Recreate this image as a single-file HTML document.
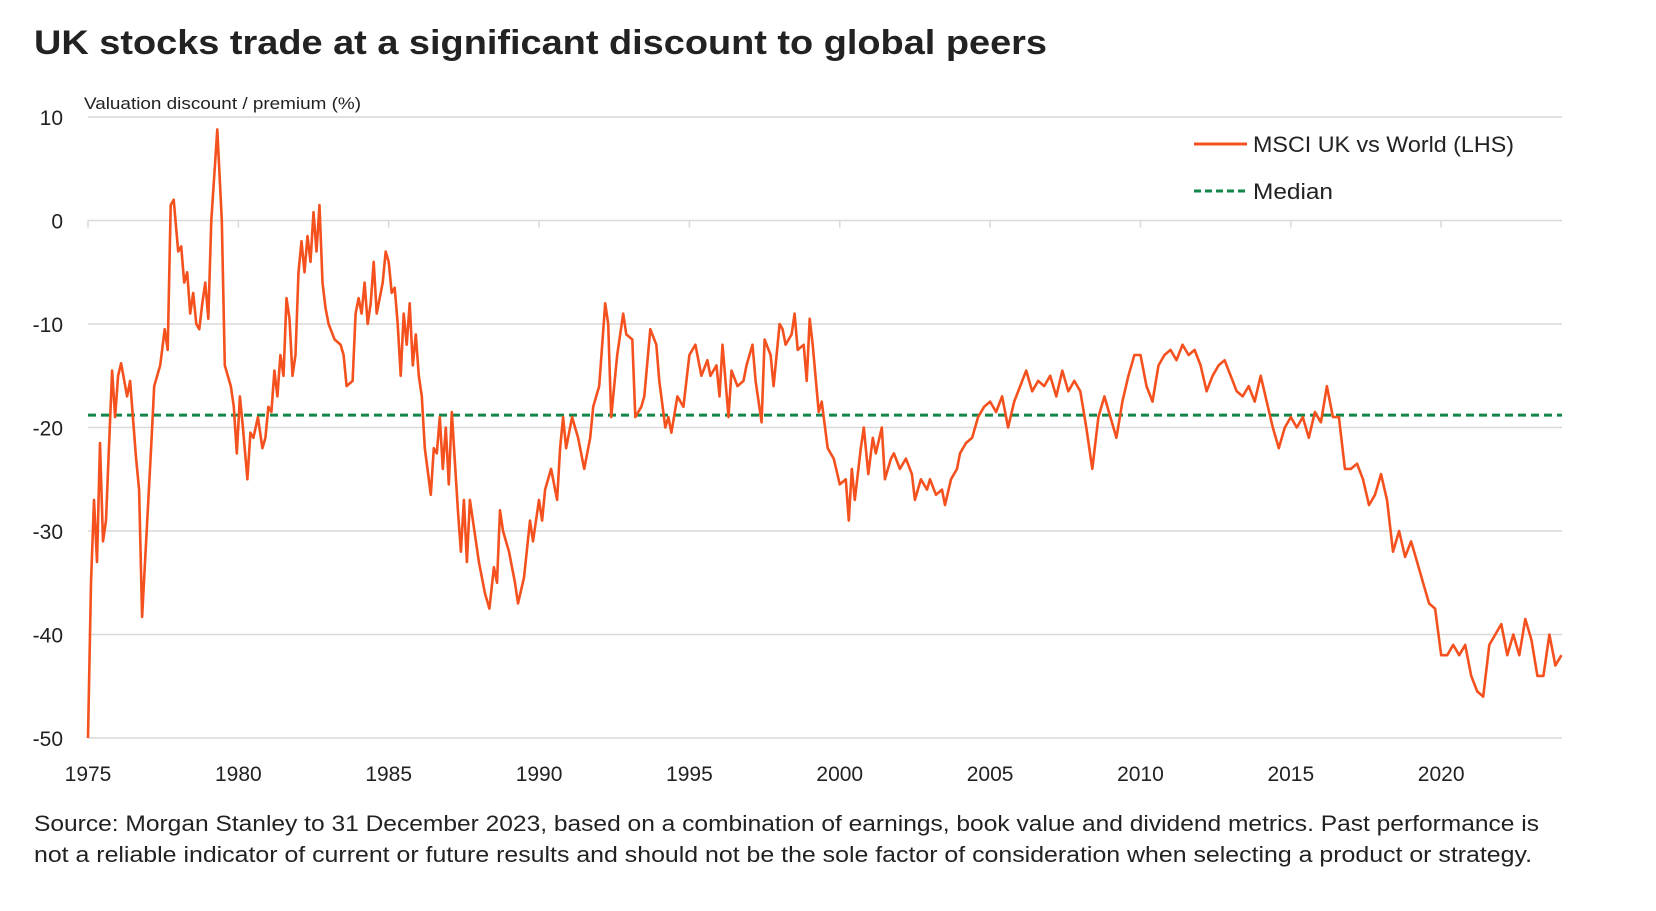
<!DOCTYPE html>
<html><head><meta charset="utf-8"><style>
body{margin:0;background:#fff;width:1656px;height:906px;overflow:hidden}
svg text{font-family:"Liberation Sans",sans-serif;fill:#222}
</style></head><body>
<svg id="c" width="1656" height="906">
<text x="34" y="54" font-size="34" font-weight="bold" fill="#111" textLength="1013" lengthAdjust="spacingAndGlyphs">UK stocks trade at a significant discount to global peers</text>
<text x="84" y="109" font-size="16.5" textLength="277" lengthAdjust="spacingAndGlyphs">Valuation discount / premium (%)</text>
<g id="grid"></g><g id="ticks"></g><g id="series"></g>
<g>
<line x1="1194" y1="144" x2="1247" y2="144" stroke="#f4511e" stroke-width="3"/>
<text x="1253" y="152" font-size="22" textLength="261" lengthAdjust="spacingAndGlyphs">MSCI UK vs World (LHS)</text>
<line x1="1194" y1="191" x2="1247" y2="191" stroke="#13864a" stroke-width="3" stroke-dasharray="7,4"/>
<text x="1253" y="199" font-size="22" textLength="80" lengthAdjust="spacingAndGlyphs">Median</text>
</g>
<text x="34" y="831" font-size="22" textLength="1505" lengthAdjust="spacingAndGlyphs">Source: Morgan Stanley to 31 December 2023, based on a combination of earnings, book value and dividend metrics. Past performance is</text>
<text x="34" y="862" font-size="22" textLength="1498" lengthAdjust="spacingAndGlyphs">not a reliable indicator of current or future results and should not be the sole factor of consideration when selecting a product or strategy.</text>
</svg>
<script>
const yTicks=[10,0,-10,-20,-30,-40,-50];
const xTicks=[1975,1980,1985,1990,1995,2000,2005,2010,2015,2020];
const medianValue=-18.8;
const dates=[1975.0,1975.1,1975.2,1975.3,1975.4,1975.5,1975.6,1975.8,1975.9,1976.0,1976.1,1976.3,1976.4,1976.6,1976.7,1976.8,1977.1,1977.2,1977.4,1977.55,1977.65,1977.75,1977.85,1978.0,1978.1,1978.2,1978.3,1978.4,1978.5,1978.6,1978.7,1978.8,1978.9,1979.0,1979.1,1979.3,1979.45,1979.55,1979.65,1979.75,1979.85,1979.95,1980.05,1980.15,1980.3,1980.4,1980.5,1980.65,1980.8,1980.9,1981.0,1981.1,1981.2,1981.3,1981.4,1981.5,1981.6,1981.7,1981.8,1981.9,1982.0,1982.1,1982.2,1982.3,1982.4,1982.5,1982.6,1982.7,1982.8,1982.9,1983.0,1983.2,1983.4,1983.5,1983.6,1983.8,1983.9,1984.0,1984.1,1984.2,1984.3,1984.4,1984.5,1984.6,1984.8,1984.9,1985.0,1985.1,1985.2,1985.3,1985.4,1985.5,1985.6,1985.7,1985.8,1985.9,1986.0,1986.1,1986.2,1986.4,1986.5,1986.6,1986.7,1986.8,1986.9,1987.0,1987.1,1987.3,1987.4,1987.5,1987.6,1987.7,1987.8,1988.0,1988.2,1988.35,1988.5,1988.6,1988.7,1988.8,1989.0,1989.2,1989.3,1989.5,1989.7,1989.8,1990.0,1990.1,1990.2,1990.4,1990.6,1990.7,1990.8,1990.9,1991.1,1991.3,1991.5,1991.7,1991.8,1992.0,1992.2,1992.3,1992.4,1992.6,1992.8,1992.9,1993.1,1993.2,1993.4,1993.5,1993.7,1993.9,1994.0,1994.2,1994.3,1994.4,1994.6,1994.8,1995.0,1995.2,1995.4,1995.6,1995.7,1995.9,1996.0,1996.1,1996.3,1996.4,1996.6,1996.8,1996.9,1997.1,1997.2,1997.4,1997.5,1997.7,1997.8,1998.0,1998.1,1998.2,1998.4,1998.5,1998.6,1998.8,1998.9,1999.0,1999.1,1999.3,1999.4,1999.6,1999.8,2000.0,2000.2,2000.3,2000.4,2000.5,2000.7,2000.8,2000.95,2001.1,2001.2,2001.4,2001.5,2001.7,2001.8,2002.0,2002.2,2002.4,2002.5,2002.7,2002.9,2003.0,2003.2,2003.4,2003.5,2003.7,2003.9,2004.0,2004.2,2004.4,2004.6,2004.8,2005.0,2005.2,2005.4,2005.6,2005.8,2006.0,2006.2,2006.4,2006.6,2006.8,2007.0,2007.2,2007.4,2007.6,2007.8,2008.0,2008.2,2008.4,2008.6,2008.8,2009.0,2009.2,2009.4,2009.6,2009.8,2010.0,2010.2,2010.4,2010.6,2010.8,2011.0,2011.2,2011.4,2011.6,2011.8,2012.0,2012.2,2012.4,2012.6,2012.8,2013.0,2013.2,2013.4,2013.6,2013.8,2014.0,2014.2,2014.4,2014.6,2014.8,2015.0,2015.2,2015.4,2015.6,2015.8,2016.0,2016.2,2016.4,2016.6,2016.8,2017.0,2017.2,2017.4,2017.6,2017.8,2018.0,2018.2,2018.4,2018.6,2018.8,2019.0,2019.2,2019.4,2019.6,2019.8,2020.0,2020.2,2020.4,2020.6,2020.8,2021.0,2021.2,2021.4,2021.6,2021.8,2022.0,2022.2,2022.4,2022.6,2022.8,2023.0,2023.2,2023.4,2023.6,2023.8,2024.0];
const values=[-50,-35,-27,-33,-21.5,-31,-29,-14.5,-19,-15,-13.8,-17,-15.5,-23,-26,-38.3,-22,-16,-14,-10.5,-12.5,1.5,2,-3,-2.5,-6,-5,-9,-7,-10,-10.5,-8,-6,-9.5,0,8.8,0,-14,-15,-16,-18,-22.5,-17,-20,-25,-20.5,-21,-19,-22,-21,-18,-18.5,-14.5,-17,-13,-15,-7.5,-9.5,-15,-13,-5,-2,-5,-1.5,-4,0.8,-3,1.5,-6,-8.5,-10,-11.5,-12,-13,-16,-15.5,-9,-7.5,-9,-6,-10,-8,-4,-9,-6,-3,-4,-7,-6.5,-10,-15,-9,-12,-8,-14,-11,-15,-17,-22,-26.5,-22,-22.5,-19,-24,-20,-25.5,-18.5,-28,-32,-27,-33,-27,-29,-33,-36,-37.5,-33.5,-35,-28,-30,-32,-35,-37,-34.5,-29,-31,-27,-29,-26,-24,-27,-22,-19,-22,-19,-21,-24,-21,-18,-16,-8,-10,-19,-13,-9,-11,-11.5,-19,-18,-17,-10.5,-12,-15.5,-20,-19,-20.5,-17,-18,-13,-12,-15,-13.5,-15,-14,-17,-12,-19,-14.5,-16,-15.5,-14,-12,-15.5,-19.5,-11.5,-13,-16,-10,-10.5,-12,-11,-9,-12.5,-12,-15.5,-9.5,-12,-18.5,-17.5,-22,-23,-25.5,-25,-29,-24,-27,-22,-20,-24.5,-21,-22.5,-20,-25,-23,-22.5,-24,-23,-24.5,-27,-25,-26,-25,-26.5,-26,-27.5,-25,-24,-22.5,-21.5,-21,-19,-18,-17.5,-18.5,-17,-20,-17.5,-16,-14.5,-16.5,-15.5,-16,-15,-17,-14.5,-16.5,-15.5,-16.5,-20,-24,-19,-17,-19,-21,-17.5,-15,-13,-13,-16,-17.5,-14,-13,-12.5,-13.5,-12,-13,-12.5,-14,-16.5,-15,-14,-13.5,-15,-16.5,-17,-16,-17.5,-15,-17.5,-20,-22,-20,-19,-20,-19,-21,-18.5,-19.5,-16,-19,-19,-24,-24,-23.5,-25,-27.5,-26.5,-24.5,-27,-32,-30,-32.5,-31,-33,-35,-37,-37.5,-42,-42,-41,-42,-41,-44,-45.5,-46,-41,-40,-39,-42,-40,-42,-38.5,-40.5,-44,-44,-40,-43,-42];
const NS='http://www.w3.org/2000/svg';
const X0=88,X1=1562,YR0=1975,PXY=30.07;
const x=d=>X0+(d-YR0)*PXY;
const y=v=>117+(10-v)*10.35;
function mk(tag,at,parent){const e=document.createElementNS(NS,tag);for(const k in at)e.setAttribute(k,at[k]);document.getElementById(parent).appendChild(e);return e;}
yTicks.forEach(t=>{
 const g=mk('line',{x1:X0,x2:X1,y1:y(t),y2:y(t),stroke:'#d9d9d9','stroke-width':1.5},'grid');
 
 
 const l=mk('text',{x:63,y:y(t)+8,'font-size':21,'text-anchor':'end'},'ticks');
 l.textContent=t;
 
 
});
xTicks.forEach(t=>{
 const tk=mk('line',{x1:x(t),x2:x(t),y1:y(0),y2:y(0)+7,stroke:'#d9d9d9','stroke-width':1.5},'ticks');
 
 
 const l=mk('text',{x:x(t),y:781,'font-size':21,'text-anchor':'middle'},'ticks');
 l.textContent=t;
 
 
});
const med=mk('line',{x1:X0,x2:X1,y1:y(medianValue),y2:y(medianValue),stroke:'#13864a','stroke-width':3,'stroke-dasharray':'8,5'},'series');


const p=mk('polyline',{points:dates.map((d,i)=>x(d).toFixed(1)+','+y(values[i]).toFixed(1)).join(' '),fill:'none',stroke:'#f4511e','stroke-width':2.6,'stroke-linejoin':'round'},'series');


</script>
</body></html>
